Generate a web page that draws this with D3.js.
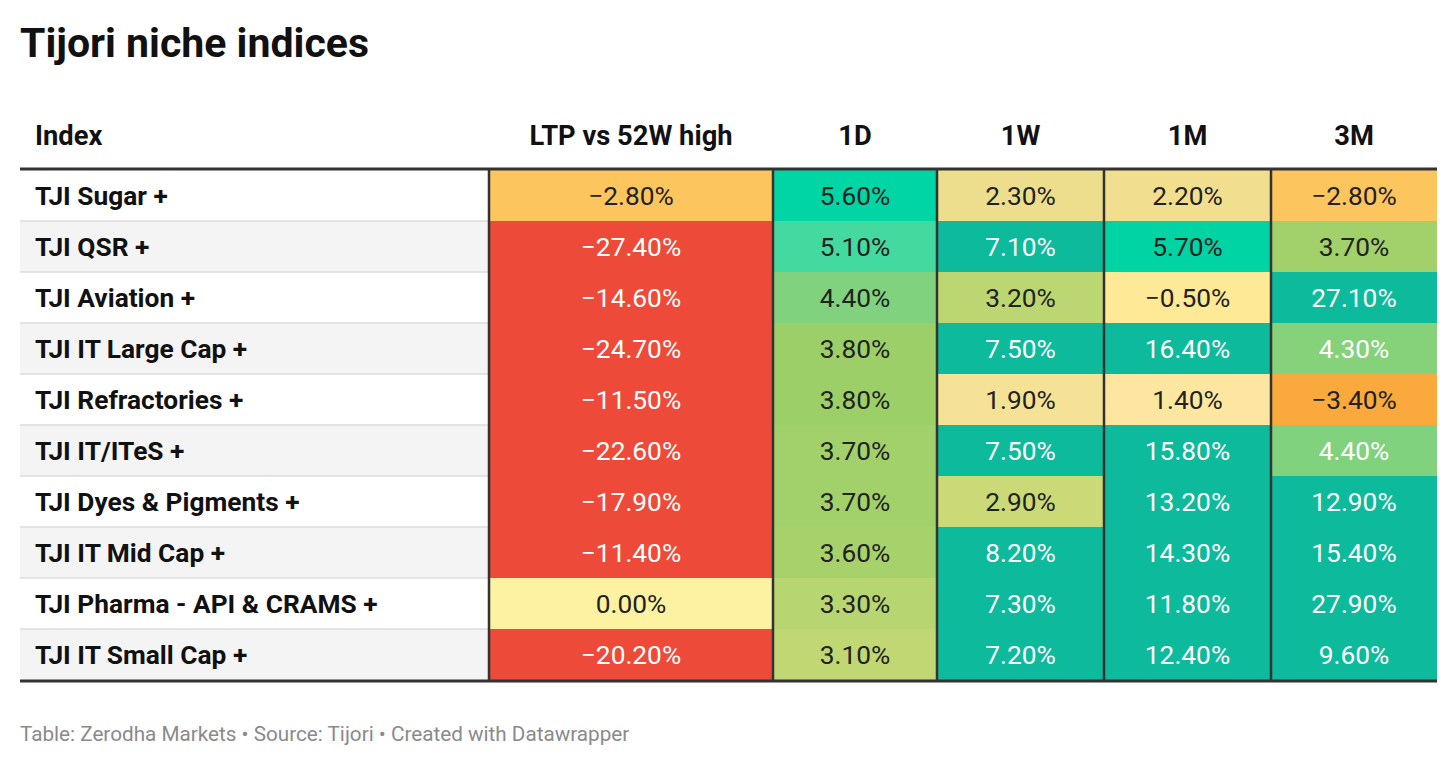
<!DOCTYPE html>
<html><head><meta charset="utf-8">
<script src="https://cdn.jsdelivr.net/npm/d3@7"></script>
<style>body{margin:0;background:#fff;font-family:Roboto,sans-serif}</style>
</head><body><svg id="c" width="1456" height="766"></svg>
<script>
var names = ["TJI Sugar +", "TJI QSR +", "TJI Aviation +", "TJI IT Large Cap +", "TJI Refractories +",
  "TJI IT/ITeS +", "TJI Dyes & Pigments +", "TJI IT Mid Cap +", "TJI Pharma - API & CRAMS +", "TJI IT Small Cap +"];
var columns = ["LTP vs 52W high", "1D", "1W", "1M", "3M"];
var ltp = [-2.8, -27.4, -14.6, -24.7, -11.5, -22.6, -17.9, -11.4, 0.0, -20.2];
var d1 = [5.6, 5.1, 4.4, 3.8, 3.8, 3.7, 3.7, 3.6, 3.3, 3.1];
var w1 = [2.3, 7.1, 3.2, 7.5, 1.9, 7.5, 2.9, 8.2, 7.3, 7.2];
var m1 = [2.2, 5.7, -0.5, 16.4, 1.4, 15.8, 13.2, 14.3, 11.8, 12.4];
var m3 = [-2.8, 3.7, 27.1, 4.3, -3.4, 4.4, 12.9, 15.4, 27.9, 9.6];
var series = [ltp, d1, w1, m1, m3];

var svg = d3.select("#c");
var tblLeft = 20, tblRight = 1437, tblTop = 170, rowH = 51;
var colX = d3.scaleOrdinal().domain(["Index"].concat(columns)).range([20, 489, 773, 937, 1104, 1271]);
var colEnd = [489, 773, 937, 1104, 1271, 1437];
var y = d3.scaleBand().domain(d3.range(names.length)).range([tblTop, tblTop + rowH * names.length]);

var color = d3.scaleLinear()
  .domain([-10, -3.4, -2.8, 0, 1.5, 2.2, 3, 3.8, 4.4, 5.1, 5.6, 7])
  .range(["#ee4a3a", "#faa93c", "#fdc55e", "#fdf1a2", "#fde6a0", "#f1df8f", "#c6d874", "#9dcf68", "#80d27f", "#44d99e", "#00d6a5", "#0dba9b"])
  .clamp(true);

svg.append("text").attr("x", 20).attr("y", 57).attr("font-size", 41).attr("font-weight", 700)
  .attr("fill", "#111").text("Tijori niche indices");

var heads = ["Index"].concat(columns);
heads.forEach(function(h, i) {
  var x0 = colX(h), x1 = colEnd[i];
  svg.append("text").attr("x", i == 0 ? x0 + 15 : (x0 + x1) / 2).attr("y", 145)
    .attr("text-anchor", i == 0 ? "start" : "middle").attr("font-size", 27.3).attr("font-weight", 700)
    .attr("fill", "#111").text(h);
});

// rows
names.forEach(function(n, r) {
  svg.append("rect").attr("x", tblLeft).attr("y", y(r)).attr("width", 469).attr("height", rowH)
    .attr("fill", r % 2 ? "#f4f4f4" : "#fff");
  svg.append("text").attr("x", 35).attr("y", y(r) + rowH / 2 + 9.5).attr("font-size", 26.3)
    .attr("font-weight", 700).attr("fill", "#111").text(n);
  series.forEach(function(s, c) {
    var x0 = colEnd[c], x1 = colEnd[c + 1], v = s[r];
    var fill = color(v);
    svg.append("rect").attr("x", x0).attr("y", y(r)).attr("width", x1 - x0).attr("height", rowH).attr("fill", fill);
    var dark = (v <= -10 || v >= 7 || (c == 4 && v >= 4));
    svg.append("text").attr("x", (x0 + x1) / 2).attr("y", y(r) + rowH / 2 + 9.5)
      .attr("text-anchor", "middle").attr("font-size", 26.3)
      .attr("fill", dark ? "#fff" : "#222")
      .text((v < 0 ? "\u2212" : "") + Math.abs(v).toFixed(2) + "%");
  });
  if (r > 0) svg.append("line").attr("x1", tblLeft).attr("x2", 489).attr("y1", y(r)).attr("y2", y(r))
    .attr("stroke", "#ddd").attr("stroke-width", 1.5);
});
var bottom = tblTop + rowH * names.length;
colEnd.slice(0, 5).forEach(function(x) {
  svg.append("line").attr("x1", x).attr("x2", x).attr("y1", tblTop).attr("y2", bottom)
    .attr("stroke", "#333").attr("stroke-width", 2.5);
});
[tblTop - 1, bottom + 1].forEach(function(yy) {
  svg.append("line").attr("x1", tblLeft).attr("x2", tblRight).attr("y1", yy).attr("y2", yy)
    .attr("stroke", "#333").attr("stroke-width", 3);
});

svg.append("text").attr("x", 20).attr("y", 741).attr("font-size", 20.7).attr("fill", "#8a8a8a")
  .text("Table: Zerodha Markets \u2022 Source: Tijori \u2022 Created with Datawrapper");
</script></body></html>
